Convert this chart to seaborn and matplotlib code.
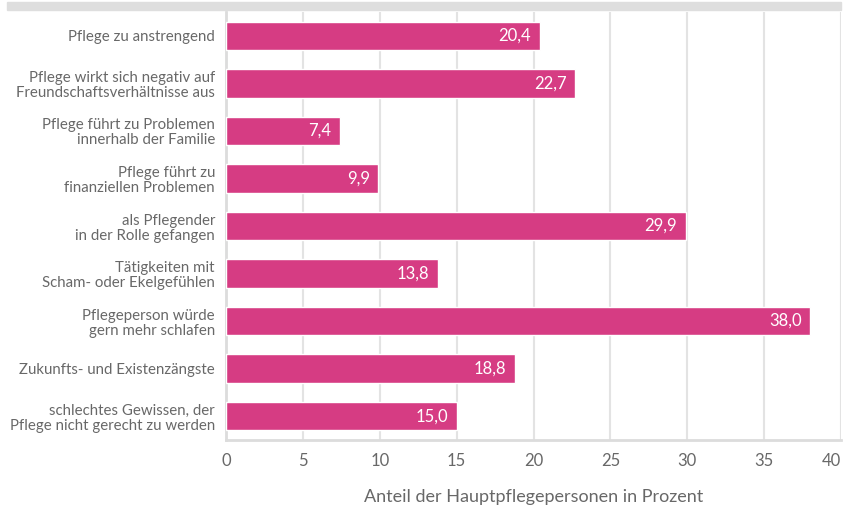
import matplotlib
matplotlib.use("Agg")
import matplotlib.pyplot as plt
import seaborn as sns
import pandas as pd
from matplotlib.patches import Rectangle

categories = [
    "Pflege zu anstrengend",
    "Pflege wirkt sich negativ auf\nFreundschaftsverhältnisse aus",
    "Pflege führt zu Problemen\ninnerhalb der Familie",
    "Pflege führt zu\nfinanziellen Problemen",
    "als Pflegender\nin der Rolle gefangen",
    "Tätigkeiten mit\nScham- oder Ekelgefühlen",
    "Pflegeperson würde\ngern mehr schlafen",
    "Zukunfts- und Existenzängste",
    "schlechtes Gewissen, der\nPflege nicht gerecht zu werden",
]
values = [20.4, 22.7, 7.4, 9.9, 29.9, 13.8, 38.0, 18.8, 15.0]
x_ticks = [0, 5, 10, 15, 20, 25, 30, 35, 40]
x_label = "Anteil der Hauptpflegepersonen in Prozent"

df = pd.DataFrame({"Kategorie": categories, "Wert": values})

sns.set_theme(style="white")
plt.rcParams["font.family"] = ["Lato", "DejaVu Sans"]

text_color = "#686868"
bar_color = "#d63c83"
grid_color = "#e3e3e3"

fig = plt.figure(figsize=(8.44, 5.07), dpi=100)
ax = fig.add_axes([226 / 844, 1 - 440 / 507, (841 - 226) / 844, (440 - 12) / 507])

sns.barplot(data=df, x="Wert", y="Kategorie", color=bar_color, width=0.6,
            saturation=1, ax=ax, zorder=3)

ax.set_xlim(0, 40)
ax.set_ylim(8.5, -0.5)
ax.set_xticks(x_ticks)
ax.set_xticklabels([str(t) for t in x_ticks], fontsize=12, color=text_color)
ax.get_xticklabels()[-1].set_horizontalalignment("right")
ax.tick_params(axis="x", length=0, pad=9)
ax.tick_params(axis="y", length=0, pad=8)
for lbl in ax.get_yticklabels():
    lbl.set_fontsize(10.8)
    lbl.set_color(text_color)
    lbl.set_horizontalalignment("right")
    lbl.set_multialignment("right")
    lbl.set_linespacing(1.1)

ax.set_ylabel("")
ax.set_xlabel(x_label, fontsize=13, color=text_color, labelpad=15)

ax.xaxis.grid(True, color=grid_color, linewidth=1.5, zorder=0)
ax.yaxis.grid(False)
for side in ["top", "right"]:
    ax.spines[side].set_visible(False)
for side in ["left", "bottom"]:
    ax.spines[side].set_color("#dcdcdc")
    ax.spines[side].set_linewidth(2)

# value labels inside the bar ends
for i, v in enumerate(values):
    ax.text(v - 0.55, i, f"{v:.1f}".replace(".", ","), ha="right", va="center",
            color="white", fontsize=12, zorder=4)

# header stripe
fig.patches.append(Rectangle((7 / 844, 1 - 10 / 507), (841 - 7) / 844, 8 / 507,
                             transform=fig.transFigure, color="#dedede",
                             zorder=0))

fig.savefig("out.png", dpi=100)
